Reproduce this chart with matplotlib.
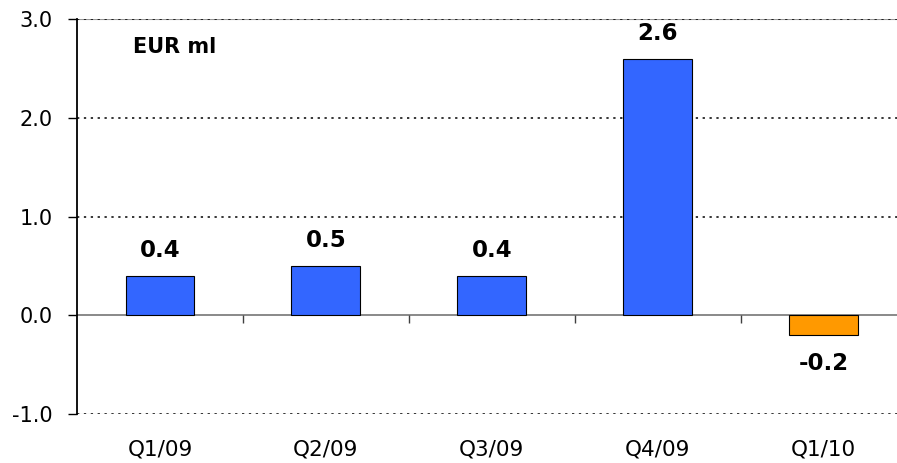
import matplotlib.pyplot as plt
import numpy as np

plt.rcParams['font.family'] = ['DejaVu Sans']

quarters = ['Q1/09', 'Q2/09', 'Q3/09', 'Q4/09', 'Q1/10']
values = [0.4, 0.5, 0.4, 2.6, -0.2]
labels = ['0.4', '0.5', '0.4', '2.6', '-0.2']
y_ticks = [-1.0, 0.0, 1.0, 2.0, 3.0]

fig = plt.figure(figsize=(8.97, 4.63), dpi=100)
# right edge of the plot runs a bit past the picture, like the original
ax = fig.add_axes([0.0858, 0.1058, 0.925, 0.853])

x = np.arange(len(quarters))
colors = ['#3366FF' if v >= 0 else '#FF9900' for v in values]

# top and bottom frame: thin grey line with dots on it
for yv in [-1.0, 3.0]:
    ax.axhline(yv, color='#999999', linewidth=0.8, zorder=1)
# dotted grid lines
for yv in [-1.0, 1.0, 2.0, 3.0]:
    ax.axhline(yv, color='black', linestyle=(0, (1.5, 3)), linewidth=1.1, zorder=1)
ax.axhline(0, color='#808080', linewidth=1.3, zorder=1)
ax.vlines(x[:-1] + 0.5, -0.08, 0, color='#404040', linewidth=1, zorder=1)

ax.bar(x, values, width=0.415, color=colors, edgecolor='black', linewidth=0.8, zorder=3)

for xi, v, lab in zip(x, values, labels):
    if v >= 0:
        ax.annotate(lab, (xi, v), xytext=(0, 10), textcoords='offset points',
                    ha='center', va='bottom', fontsize=16.5, fontweight='bold')
    else:
        ax.annotate(lab, (xi, v), xytext=(0, -12), textcoords='offset points',
                    ha='center', va='top', fontsize=16.5, fontweight='bold')

ax.text(0.0675, 0.954, 'EUR ml', transform=ax.transAxes, fontsize=15,
        fontweight='bold', va='top', ha='left')

ax.set_xlim(-0.5, 4.5)
ax.set_ylim(-1.0, 3.0)
ax.set_yticks(y_ticks)
ax.set_yticklabels(['%.1f' % t for t in y_ticks], fontsize=15)
ax.set_xticks(x)
ax.set_xticklabels(quarters, fontsize=15.5)
ax.tick_params(axis='x', length=0, pad=18)
ax.tick_params(axis='y', length=6.5, width=1, direction='out', pad=11)

for s in ['top', 'right', 'bottom']:
    ax.spines[s].set_visible(False)
ax.spines['left'].set_linewidth(1.3)

fig.savefig('out.png', dpi=100)
